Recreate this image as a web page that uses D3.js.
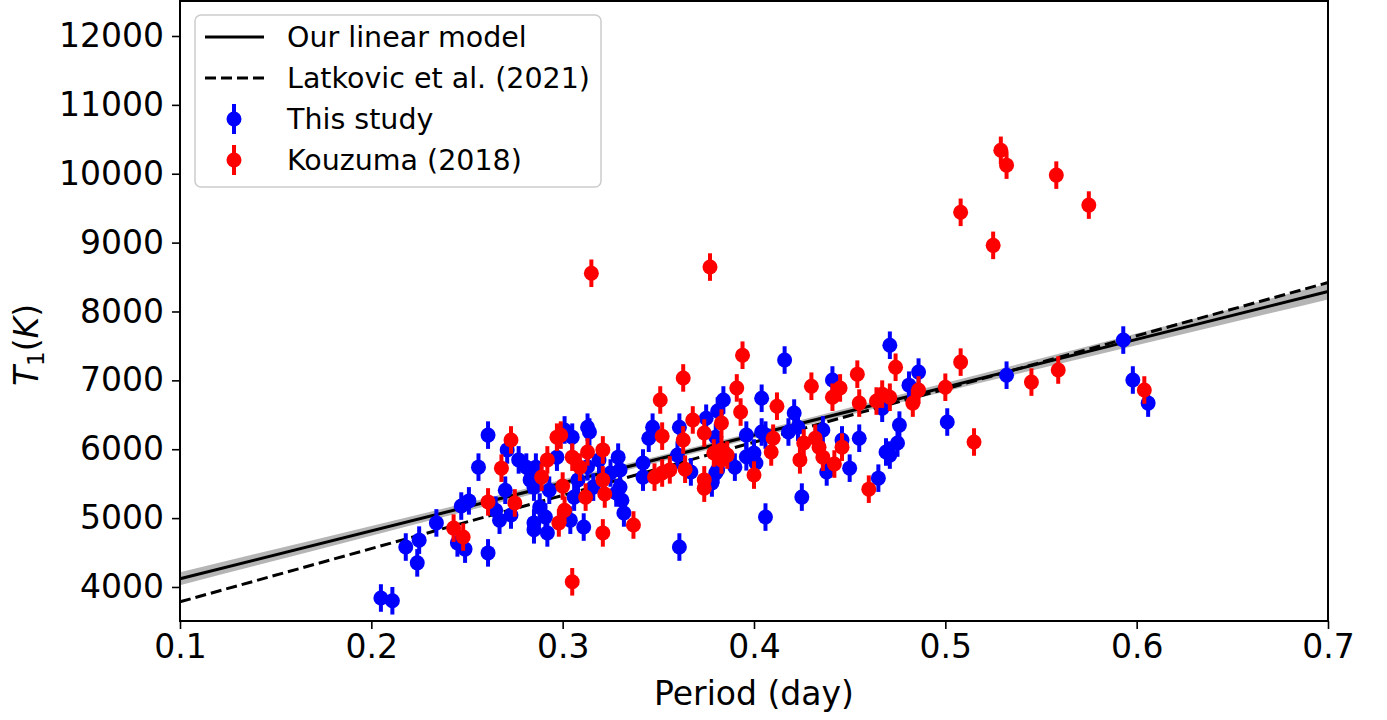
<!DOCTYPE html>
<html lang="en">
<head>
<meta charset="UTF-8">
<title>T1 vs Period</title>
<script src="https://d3js.org/d3.v7.min.js"></script>
<style>
  body { margin: 0; background: #fff; }
  text { font-family: "DejaVu Sans", sans-serif; fill: #000; }
</style>
</head>
<body>
<svg width="1387" height="720"></svg>
<script>

// This study
var studyP = [0.205,0.211,0.218,0.224,0.225,0.234,0.245,0.249,0.247,0.251,0.256,0.261,0.261,0.265,0.267,0.270,
  0.273,0.271,0.277,0.281,0.283,0.285,0.285,0.288,0.291,0.292,0.293,0.297,0.301,0.304,0.305,0.306,0.308,0.311,
  0.313,0.314,0.316,0.319,0.325,0.329,0.330,0.330,0.331,0.332,0.328,0.342,0.342,0.345,0.347,0.360,0.361,0.361,
  0.367,0.375,0.381,0.384,0.380,0.381,0.378,0.390,0.396,0.400,0.401,0.404,0.404,0.406,0.406,0.416,0.418,0.421,
  0.423,0.425,0.436,0.441,0.438,0.446,0.450,0.455,0.465,0.467,0.469,0.471,0.475,0.476,0.471,0.486,0.481,0.501,
  0.532,0.593,0.598,0.606,0.380,0.286,0.285,0.396,0.313];
var studyT = [3840,3800,4580,4350,4680,4930,4640,4550,5175,5250,5740,6205,4495,5115,4970,5405,
  5045,5990,5845,5740,5555,5450,4830,5160,5015,4785,5405,5885,6280,4970,6175,5305,5555,4870,
  6320,6250,5450,5845,5655,5885,5700,5450,5260,5075,5365,5800,5595,6160,6320,5915,6320,4580,
  5670,6450,6555,6715,6175,5700,5510,5740,6205,5945,5800,6740,6250,6205,5015,7295,6250,6525,
  6320,5305,6280,7005,5670,6135,5725,6160,5580,6595,5960,5915,6090,6350,7510,7120,6930,6395,
  7075,7585,7005,6670,5655,5740,4930,5890,5745];

// Kouzuma (2018)
var kouzP = [0.243,0.248,0.261,0.268,0.273,0.275,0.289,0.292,0.297,0.299,0.300,0.301,0.298,0.305,0.305,0.309,
  0.312,0.313,0.315,0.321,0.321,0.322,0.321,0.337,0.351,0.352,0.352,0.348,0.356,0.363,0.363,0.364,0.368,0.374,
  0.374,0.374,0.377,0.379,0.383,0.383,0.386,0.391,0.393,0.394,0.400,0.410,0.409,0.412,0.424,0.426,0.430,0.432,
  0.434,0.436,0.442,0.441,0.445,0.446,0.454,0.455,0.460,0.464,0.467,0.471,0.474,0.483,0.486,0.500,0.508,0.515,
  0.508,0.525,0.529,0.532,0.558,0.575,0.545,0.559,0.604,0.383];
var kouzT = [4855,4725,5235,5725,6135,5220,5595,5845,6175,6205,5465,5115,4930,4075,5885,5740,
  5305,5960,8555,5990,5555,5350,4785,4900,6715,6190,5655,5595,5700,7035,6135,5710,6425,6235,
  5555,5435,8645,5945,6380,5990,5915,6890,6540,7365,5625,6160,5960,6625,5845,6090,6915,6160,
  6030,5885,5785,6755,6890,6030,7090,6670,5420,6700,6800,6755,7190,6670,6860,6900,7265,6105,
  9440,8960,10340,10125,9980,9545,6975,7150,6860,5845];

var studyErr = 200, kouzErr = 200;

// fitted lines (value at each end of the axis)
var lineP = [0.1, 0.7];
var ourModelT = [4120, 8290];
var latkovicT = [3785, 8420];
// grey uncertainty band of our model (half width)
var bandP = [0.1, 0.2, 0.3, 0.4, 0.5, 0.6, 0.7];
var bandHalf = [95, 70, 50, 45, 60, 85, 115];

var xTicks = [0.1, 0.2, 0.3, 0.4, 0.5, 0.6, 0.7];
var yTicks = [4000, 5000, 6000, 7000, 8000, 9000, 10000, 11000, 12000];

var mLeft = 180, mRight = 1328, mTop = 1, mBottom = 621;
var svg = d3.select('svg');

var x = d3.scaleLinear().domain([0.1, 0.7]).range([mLeft, mRight]);
var y = d3.scaleLinear().domain([3506, 12508]).range([mBottom, mTop]);

svg.append('rect').attr('width', 1387).attr('height', 720).attr('fill', '#fff');

var plot = svg.append('g');

// band
function modelAt(p) {
    return ourModelT[0] + (ourModelT[1] - ourModelT[0]) * (p - lineP[0]) / (lineP[1] - lineP[0]);
}
var area = d3.area()
    .x(function (d) { return x(d); })
    .y0(function (d, i) { return y(modelAt(d) - bandHalf[i]); })
    .y1(function (d, i) { return y(modelAt(d) + bandHalf[i]); })
    .curve(d3.curveMonotoneX);
plot.append('path').datum(bandP).attr('d', area).attr('fill', '#b5b5b5');

var line = d3.line()
    .x(function (d, i) { return x(lineP[i]); })
    .y(function (d) { return y(d); });

plot.append('path').datum(ourModelT).attr('d', line)
    .attr('fill', 'none').attr('stroke', '#000').attr('stroke-width', 3);
plot.append('path').datum(latkovicT).attr('d', line)
    .attr('fill', 'none').attr('stroke', '#000').attr('stroke-width', 3)
    .attr('stroke-dasharray', '11,5');

function drawSeries(P, T, err, color) {
    var g = plot.append('g');
    var pts = P.map(function (p, i) { return [p, T[i]]; });
    g.selectAll('line').data(pts).enter().append('line')
        .attr('x1', function (d) { return x(d[0]); })
        .attr('x2', function (d) { return x(d[0]); })
        .attr('y1', function (d) { return y(d[1] - err); })
        .attr('y2', function (d) { return y(d[1] + err); })
        .attr('stroke', color).attr('stroke-width', 4);
    g.selectAll('circle').data(pts).enter().append('circle')
        .attr('cx', function (d) { return x(d[0]); })
        .attr('cy', function (d) { return y(d[1]); })
        .attr('r', 7.5)
        .attr('fill', color);
}
drawSeries(studyP, studyT, studyErr, '#0000ff');
drawSeries(kouzP, kouzT, kouzErr, '#ff0000');

// axes
var axisX = d3.axisBottom(x).tickValues(xTicks).tickSize(8).tickPadding(6)
    .tickFormat(d3.format('.1f'));
var gx = svg.append('g').attr('transform', 'translate(0,' + mBottom + ')').call(axisX);
var axisY = d3.axisLeft(y).tickValues(yTicks).tickSize(8).tickPadding(8)
    .tickFormat(d3.format('d'));
var gy = svg.append('g').attr('transform', 'translate(' + mLeft + ',0)').call(axisY);
[gx, gy].forEach(function (g) {
    g.select('.domain').remove();
    g.attr('font-size', 33).attr('font-family', '"DejaVu Sans", sans-serif');
    g.selectAll('.tick line').attr('stroke', '#000').attr('stroke-width', 1.6);
    g.selectAll('.tick text').attr('fill', '#000');
});

// frame
svg.append('rect').attr('x', mLeft).attr('y', mTop).attr('width', mRight - mLeft).attr('height', mBottom - mTop)
    .attr('fill', 'none').attr('stroke', '#000').attr('stroke-width', 2);

// labels
svg.append('text').attr('x', (mLeft + mRight) / 2).attr('y', 705)
    .attr('text-anchor', 'middle').attr('font-size', 33).text('Period (day)');

var yl = svg.append('text').attr('transform', 'translate(38,345) rotate(-90)')
    .attr('text-anchor', 'middle').attr('font-size', 33);
yl.append('tspan').attr('font-style', 'italic').text('T');
yl.append('tspan').attr('font-size', 23).attr('dy', 6).text('1');
yl.append('tspan').attr('dy', -6).text('(');
yl.append('tspan').attr('font-style', 'italic').text('K');
yl.append('tspan').text(')');

// legend
var lg = svg.append('g');
lg.append('rect').attr('x', 195).attr('y', 15).attr('width', 406).attr('height', 172).attr('rx', 6)
    .attr('fill', '#fff').attr('fill-opacity', 0.85).attr('stroke', '#cccccc').attr('stroke-width', 1.5);
var legendNames = ['Our linear model', 'Latkovic et al. (2021)', 'This study', 'Kouzuma (2018)'];
var legendY = [37, 78, 119, 160];
lg.append('line').attr('x1', 205).attr('x2', 264).attr('y1', legendY[0]).attr('y2', legendY[0])
    .attr('stroke', '#000').attr('stroke-width', 3);
lg.append('line').attr('x1', 205).attr('x2', 264).attr('y1', legendY[1]).attr('y2', legendY[1])
    .attr('stroke', '#000').attr('stroke-width', 3).attr('stroke-dasharray', '11,5');
[['#0000ff', 2], ['#ff0000', 3]].forEach(function (s) {
    var yy = legendY[s[1]];
    lg.append('line').attr('x1', 234).attr('x2', 234).attr('y1', yy - 15).attr('y2', yy + 15)
        .attr('stroke', s[0]).attr('stroke-width', 4);
    lg.append('circle').attr('cx', 234).attr('cy', yy).attr('r', 7.5).attr('fill', s[0]);
});
lg.selectAll('text.lab').data(legendNames).enter().append('text')
    .attr('class', 'lab')
    .attr('x', 287)
    .attr('y', function (d, i) { return legendY[i]; })
    .attr('dy', '0.35em')
    .attr('font-size', 28.5)
    .text(function (d) { return d; });

</script>
</body>
</html>
